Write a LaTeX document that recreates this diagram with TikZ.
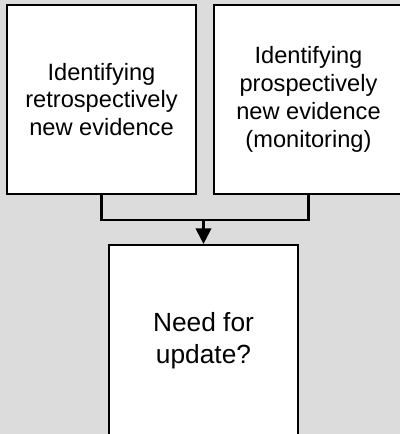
\documentclass[tikz,border=0pt]{standalone}
\usepackage{fontspec}
\setmainfont{Liberation Sans}
\usetikzlibrary{arrows.meta}
\definecolor{bggray}{HTML}{DCDCDC}
\tikzset{
  box/.style={rectangle, draw, fill=white, line width=1.5pt, minimum width=4.725cm,
    minimum height=4.725cm, align=center, font=\fontsize{16.8}{19.8}\selectfont},
}
\begin{document}
\begin{tikzpicture}[x=0.025cm, y=-0.025cm]
    \fill[bggray] (0,0) rectangle (400,434);
    \useasboundingbox (0,0) rectangle (400,434);
    \clip (0,0) rectangle (400,434);

    \node[box] (retro) at (101.5,99.5) {Identifying\\retrospectively\\new evidence};
    \node[box] (prosp) at (308.5,99.5) {Identifying\\prospectively\\new evidence\\(monitoring)};
    \node[box, minimum height=4.8cm, font=\fontsize{18.7}{22.5}\selectfont] (need) at (203.5,341) {Need for\\update?};
    \coordinate (join) at (203.5,220);

    \draw[line width=1.5pt] (retro.south) |- (join) -| (prosp.south);
    \draw[line width=1.5pt, -{Triangle[length=11pt, width=11pt]}] (join) -- (need.north);
\end{tikzpicture}
\end{document}
